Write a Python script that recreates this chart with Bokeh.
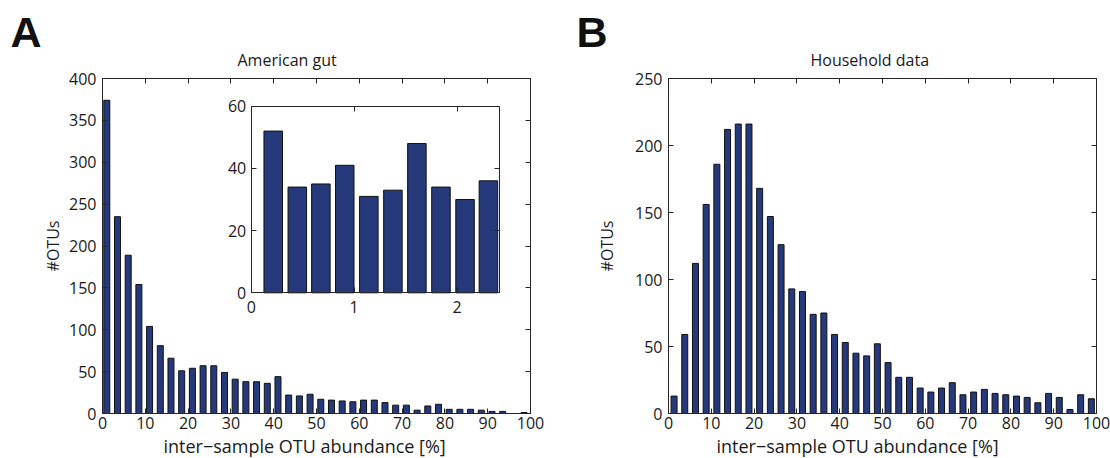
from bokeh.plotting import figure
from bokeh.models import Range1d, LinearAxis, FixedTicker, Title
from bokeh.layouts import row
from bokeh.embed import file_html
from bokeh.resources import INLINE

# ---------------- data ----------------
a_centers = [1.0, 3.5, 6.0, 8.5, 11.0, 13.5, 16.0, 18.5, 21.0, 23.5,
             26.0, 28.5, 31.0, 33.5, 36.0, 38.5, 41.0, 43.5, 46.0, 48.5,
             51.0, 53.5, 56.0, 58.5, 61.0, 63.5, 66.0, 68.5, 71.0, 73.5,
             76.0, 78.5, 81.0, 83.5, 86.0, 88.5, 91.0, 93.5, 96.0, 98.5]
a_counts = [374, 235, 189, 154, 104, 81, 66, 51, 54, 57,
            57, 49, 41, 38, 38, 36, 44, 22, 21, 23,
            17, 16, 15, 14, 16, 16, 13, 10, 10, 4,
            9, 11, 5, 5, 5, 4, 2.5, 2.5, 0, 1.2]

inset_centers = [0.214, 0.448, 0.677, 0.909, 1.143, 1.377, 1.61, 1.844, 2.078, 2.305]
inset_counts = [52, 34, 35, 41, 31, 33, 48, 34, 30, 36]

b_centers = [1.3, 3.8, 6.3, 8.8, 11.3, 13.8, 16.3, 18.8, 21.3, 23.8,
             26.3, 28.8, 31.3, 33.8, 36.3, 38.8, 41.3, 43.8, 46.3, 48.8,
             51.3, 53.8, 56.3, 58.8, 61.3, 63.8, 66.3, 68.8, 71.3, 73.8,
             76.3, 78.8, 81.3, 83.8, 86.3, 88.8, 91.3, 93.8, 96.3, 98.8]
b_counts = [13, 59, 112, 156, 186, 212, 216, 216, 168, 147,
            126, 93, 91, 74, 75, 59, 53, 45, 43, 52,
            38, 27, 27, 19, 16, 19, 23, 14, 16, 18,
            15, 14, 13, 12, 8, 15, 12, 3, 14, 11]

x_ticks = [0, 10, 20, 30, 40, 50, 60, 70, 80, 90, 100]
a_yticks = [0, 50, 100, 150, 200, 250, 300, 350, 400]
b_yticks = [0, 50, 100, 150, 200, 250]
inset_xticks = [0, 1, 2]
inset_yticks = [0, 20, 40, 60]

x_label = "inter\u2212sample OTU abundance [%]"
y_label = "#OTUs"

# ---------------- style ----------------
FONT = "Open Sans"
LETTER_FONT = "Liberation Sans"
TXT = "#1a1a1a"
AXC = "#262626"
BAR = "#26397a"
EDGE = "#111111"


def style_axis(ax, ticks, labels=True, standoff=5):
    ax.ticker = FixedTicker(ticks=ticks, minor_ticks=[])
    ax.major_tick_in = 5
    ax.major_tick_out = 0
    ax.minor_tick_in = 0
    ax.minor_tick_out = 0
    ax.axis_line_color = AXC
    ax.axis_line_width = 1
    ax.major_tick_line_color = AXC
    ax.major_tick_line_width = 1
    ax.major_label_text_font = FONT
    ax.axis_label_text_font = FONT
    ax.axis_label_text_font_style = "normal"
    ax.axis_label_text_color = TXT
    if labels:
        ax.major_label_text_font_size = "16px"
        ax.major_label_text_color = TXT
        ax.major_label_standoff = standoff
    else:
        ax.major_label_text_font_size = "0px"
        ax.major_label_text_color = None
        ax.major_label_standoff = 0


def make_panel(width, border_left, title, title_offset, xlabel_offset, letter,
               centers, counts, ymax, yticks, ylabel_standoff):
    p = figure(width=width, height=458,
               x_range=Range1d(0, 100), y_range=Range1d(0, ymax),
               output_backend="svg", toolbar_location=None,
               min_border_left=border_left, min_border_right=width - border_left - 428,
               min_border_top=78, min_border_bottom=45,
               y_axis_label=y_label)
    p.title_location = None
    p.outline_line_color = None
    p.xgrid.visible = False
    p.ygrid.visible = False
    p.background_fill_color = "white"
    p.border_fill_color = "white"

    style_axis(p.xaxis[0], x_ticks, standoff=3)
    style_axis(p.yaxis[0], yticks, standoff=6)
    p.yaxis[0].axis_label_text_font_size = "16px"
    p.yaxis[0].axis_label_standoff = ylabel_standoff

    top = LinearAxis()
    style_axis(top, x_ticks, labels=False)
    p.add_layout(top, "above")
    right = LinearAxis()
    style_axis(right, yticks, labels=False)
    p.add_layout(right, "right")

    # x-axis title (placed below the axis, left-aligned with an offset like the reference)
    xt = Title(text=x_label, align="left", offset=xlabel_offset,
               text_font=FONT, text_font_size="18px", text_font_style="normal",
               text_color=TXT, standoff=0)
    p.add_layout(xt, "below")

    name = Title(text=title, align="left", offset=title_offset,
                 text_font=FONT, text_font_size="16px", text_font_style="normal",
                 text_color=TXT, standoff=15)
    p.add_layout(name, "above")
    tag = Title(text=letter, align="left", offset=-92,
                text_font=LETTER_FONT, text_font_size="43px", text_font_style="bold",
                text_color="#111111", standoff=-33)
    p.add_layout(tag, "above")

    p.vbar(x=centers, top=counts, width=1.4, bottom=0,
           fill_color=BAR, line_color=EDGE, line_width=1)
    return p


pA = make_panel(560, 102, "American gut", 135, 61, "A", a_centers, a_counts, 400, a_yticks, 2)
pB = make_panel(550, 108, "Household data", 142, 48, "B", b_centers, b_counts, 250, b_yticks, 14)

# ---------------- inset in panel A ----------------
inset_xmax = 2.41
pA.extra_x_ranges = {"ix": Range1d(-1.445, 2.714)}
pA.extra_y_ranges = {"iy": Range1d(-38.81, 68.91)}

pA.vbar(x=inset_centers, top=inset_counts, width=0.18, bottom=0,
        x_range_name="ix", y_range_name="iy",
        fill_color=BAR, line_color=EDGE, line_width=1)

ib = LinearAxis(x_range_name="ix", y_range_name="iy", fixed_location=0, bounds=(0, inset_xmax))
style_axis(ib, inset_xticks, standoff=8)
pA.add_layout(ib, "below")
il = LinearAxis(x_range_name="ix", y_range_name="iy", fixed_location=0, bounds=(0, 60))
style_axis(il, inset_yticks, standoff=5)
pA.add_layout(il, "left")
it = LinearAxis(x_range_name="ix", y_range_name="iy", fixed_location=60, bounds=(0, inset_xmax))
style_axis(it, inset_xticks, labels=False)
pA.add_layout(it, "above")
ir = LinearAxis(x_range_name="ix", y_range_name="iy", fixed_location=inset_xmax, bounds=(0, 60))
style_axis(ir, inset_yticks, labels=False)
pA.add_layout(ir, "right")

layout = row(pA, pB)
open("out.html", "w").write(file_html(layout, INLINE))
